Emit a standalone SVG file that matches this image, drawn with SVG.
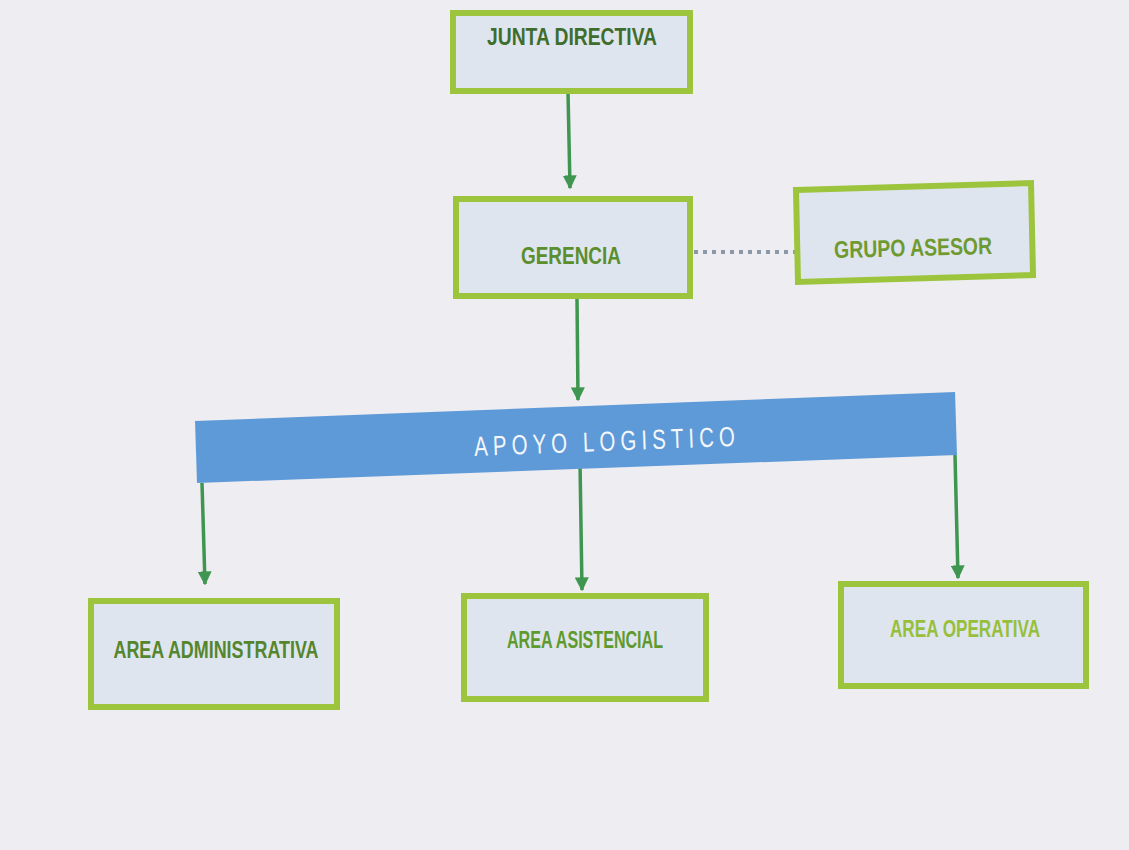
<svg xmlns="http://www.w3.org/2000/svg" width="1129" height="850" viewBox="0 0 1129 850">
<style>
.box{fill:#dfe5ef;stroke:#9cc43c;stroke-width:6}
.lbl{font-family:"Liberation Sans",Arial,sans-serif;font-weight:bold;font-size:24px;text-anchor:middle}
.conn{stroke:#3f9650;stroke-width:3.5;fill:none}
</style>
<defs>
<marker id="ah" viewBox="0 0 10 10" refX="9" refY="5" markerWidth="4" markerHeight="4" orient="auto">
<path d="M0,0 L10,5 L0,10 z" fill="#3f9650"/>
</marker>
</defs>
<rect width="1129" height="850" fill="#eeedf1"/>
<g id="connectors">
<line class="conn" x1="568" y1="92" x2="570" y2="188" marker-end="url(#ah)"/>
<line class="conn" x1="577" y1="298" x2="578" y2="400" marker-end="url(#ah)"/>
<line class="conn" x1="202" y1="483" x2="205" y2="584" marker-end="url(#ah)"/>
<line class="conn" x1="580" y1="462" x2="582" y2="590" marker-end="url(#ah)"/>
<line class="conn" x1="955" y1="455" x2="958" y2="578" marker-end="url(#ah)"/>
<line x1="694" y1="252" x2="795" y2="252" stroke="#8a98a8" stroke-width="4" stroke-dasharray="4,5"/>
</g>
<g id="junta">
<rect class="box" x="453" y="13" width="237" height="78"/>
<text class="lbl" x="572" y="45" fill="#3f6e2c" textLength="170" lengthAdjust="spacingAndGlyphs">JUNTA DIRECTIVA</text>
</g>
<g id="gerencia">
<rect class="box" x="456" y="199" width="234" height="97"/>
<text class="lbl" x="571" y="264" fill="#5b8e2c" textLength="100" lengthAdjust="spacingAndGlyphs">GERENCIA</text>
</g>
<g id="grupo">
<polygon class="box" points="796,190 1031,183 1033,275 798,282"/>
<text class="lbl" x="913" y="256" fill="#6f9a30" textLength="158" lengthAdjust="spacingAndGlyphs" transform="rotate(-1.5 913 245)">GRUPO ASESOR</text>
</g>
<g id="apoyo">
<polygon points="195,421 955,392 957,455 197,483" fill="#5f9ad8"/>
<text x="607" y="451" fill="#f4f7fb" font-family="'Liberation Sans',Arial,sans-serif" font-size="24" text-anchor="middle" textLength="266" lengthAdjust="spacingAndGlyphs" transform="rotate(-2.2 607 440) scale(1 1.15) translate(0 -59)" letter-spacing="6">APOYO  LOGISTICO</text>
</g>
<g id="administrativa">
<rect class="box" x="91" y="601" width="246" height="106"/>
<text class="lbl" x="216" y="658" fill="#55852c" textLength="205" lengthAdjust="spacingAndGlyphs">AREA ADMINISTRATIVA</text>
</g>
<g id="asistencial">
<rect class="box" x="464" y="596" width="242" height="103"/>
<text class="lbl" x="585" y="648" fill="#5f9a2c" textLength="156" lengthAdjust="spacingAndGlyphs">AREA ASISTENCIAL</text>
</g>
<g id="operativa">
<rect class="box" x="841" y="584" width="245" height="102"/>
<text class="lbl" x="965" y="637" fill="#96c03a" textLength="150" lengthAdjust="spacingAndGlyphs">AREA OPERATIVA</text>
</g>
</svg>
